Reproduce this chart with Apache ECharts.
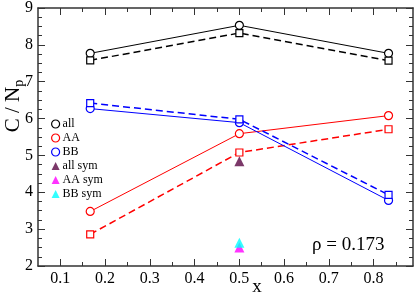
<!DOCTYPE html>
<html>
<head>
<meta charset="utf-8">
<script src="https://cdn.jsdelivr.net/npm/echarts@6/dist/echarts.min.js"></script>
<style>html,body{margin:0;padding:0;background:#fff;}#c{width:415px;height:295px;}</style>
</head>
<body>
<div id="c"></div>
<script>
var xs = [1/6, 0.5, 5/6];
var allCirc = [7.77, 8.53, 7.77];
var allSq = [7.58, 8.32, 7.57];
var aaCirc = [3.48, 5.59, 6.08];
var aaSq = [2.86, 5.08, 5.71];
var bbCirc = [6.27, 5.89, 3.78];
var bbSq = [6.42, 5.98, 3.93];
var symX = [0.5];
var allSym = [4.84];
var aaSym = [2.50];
var bbSym = [2.63];
var xMajor = [0.1, 0.2, 0.3, 0.4, 0.5, 0.6, 0.7, 0.8];
var xMinor = [0.15, 0.25, 0.35, 0.45, 0.55, 0.65, 0.75, 0.85];
var rhoText = 'ρ = 0.173';

function pts(xv, yv) { return yv.map(function (v, i) { return [xv[i], v]; }); }

var FONT = '"Liberation Serif", "DejaVu Serif", serif';
var AX = '#333';
var chart = echarts.init(document.getElementById('c'), null, {renderer: 'canvas'});

function xAx(pos, major, labels) {
  return {
    type: 'value', position: pos, min: 0.05, max: 0.888,
    axisLine: {show: major, lineStyle: {color: AX, width: 1.5}},
    axisTick: {show: true, inside: true, length: major ? 7 : 4, customValues: major ? xMajor : xMinor, lineStyle: {color: AX, width: 1}},
    axisLabel: {show: labels, customValues: xMajor, margin: 5, fontFamily: FONT, fontSize: 16, color: '#000',
      formatter: function (v) { return (Math.round(v * 10) / 10).toFixed(1); }},
    splitLine: {show: false}
  };
}
function yAx(pos, labels) {
  return {
    type: 'value', position: pos, min: 2, max: 9, interval: 1,
    axisLine: {show: true, lineStyle: {color: AX, width: 1.5}},
    axisTick: {show: true, inside: true, length: 7, lineStyle: {color: AX, width: 1}},
    minorTick: {show: true, splitNumber: 4, length: 4, lineStyle: {color: AX, width: 1}},
    axisLabel: {show: labels, margin: 5, fontFamily: FONT, fontSize: 16, color: '#000'},
    splitLine: {show: false}
  };
}

function lineS(name, data, color, dashed, sym, size) {
  return {
    name: name, type: 'line', data: data, xAxisIndex: 0, yAxisIndex: 0,
    symbol: sym, symbolSize: size, showSymbol: true,
    lineStyle: {color: color, width: dashed ? 1.5 : 1, type: dashed ? [7, 4] : 'solid'},
    itemStyle: {color: '#fff', borderColor: color, borderWidth: 1.2},
    emphasis: {disabled: true}, animation: false, z: 3
  };
}
function symS(name, data, color) {
  return {
    name: name, type: 'scatter', data: data, xAxisIndex: 0, yAxisIndex: 0,
    symbol: 'triangle', symbolSize: 10, itemStyle: {color: color},
    emphasis: {disabled: true}, animation: false, z: 4
  };
}

var option = {
  backgroundColor: '#fff',
  animation: false,
  grid: {left: 38, right: 2, top: 6, bottom: 29, containLabel: false},
  xAxis: [xAx('bottom', true, true), xAx('top', true, false), xAx('bottom', false, false), xAx('top', false, false)],
  yAxis: [yAx('left', true), yAx('right', false)],
  legend: {
    orient: 'vertical', left: 46, top: 113, itemWidth: 8, itemHeight: 8, itemGap: 2,
    textStyle: {fontFamily: FONT, fontSize: 12, color: '#000', padding: [0, 0, 0, -2]},
    selectedMode: false,
    data: [
      {name: 'all', icon: 'circle', itemStyle: {color: '#fff', borderColor: '#000', borderWidth: 1.2}},
      {name: 'AA', icon: 'circle', itemStyle: {color: '#fff', borderColor: '#f00', borderWidth: 1.2}},
      {name: 'BB', icon: 'circle', itemStyle: {color: '#fff', borderColor: '#00f', borderWidth: 1.2}},
      {name: 'all sym', icon: 'triangle', itemStyle: {color: '#5a0644'}},
      {name: 'AA sym', icon: 'triangle', itemStyle: {color: '#ff00ff'}},
      {name: 'BB sym', icon: 'triangle', itemStyle: {color: '#00ffff'}}
    ]
  },
  series: [
    lineS('all', pts(xs, allCirc), '#000', false, 'circle', 8),
    lineS('all sq', pts(xs, allSq), '#000', true, 'rect', 7),
    lineS('AA', pts(xs, aaCirc), '#f00', false, 'circle', 8),
    lineS('AA sq', pts(xs, aaSq), '#f00', true, 'rect', 7),
    lineS('BB', pts(xs, bbCirc), '#00f', false, 'circle', 8),
    lineS('BB sq', pts(xs, bbSq), '#00f', true, 'rect', 7),
    symS('all sym', pts(symX, allSym), '#5a0644'),
    symS('AA sym', pts(symX, aaSym), '#ff00ff'),
    symS('BB sym', pts(symX, bbSym), '#00ffff')
  ],
  graphic: [
    {type: 'text', x: 13, y: 106, rotation: Math.PI / 2,
      style: {text: '{a|C / N}{b|p}', align: 'center', verticalAlign: 'middle',
        rich: {a: {fontFamily: FONT, fontSize: 21, fill: '#000', lineHeight: 22},
               b: {fontFamily: FONT, fontSize: 14, fill: '#000', lineHeight: 22, padding: [12, 0, 0, 0]}}}},
    {type: 'text', x: 257, y: 287, style: {text: 'x', fontFamily: FONT, fontSize: 19, fill: '#000', align: 'center', verticalAlign: 'middle'}},
    {type: 'text', x: 312, y: 245, style: {text: rhoText, fontFamily: FONT, fontSize: 19, fill: '#000', align: 'left', verticalAlign: 'middle'}}
  ]
};
chart.setOption(option);
</script>
</body>
</html>
